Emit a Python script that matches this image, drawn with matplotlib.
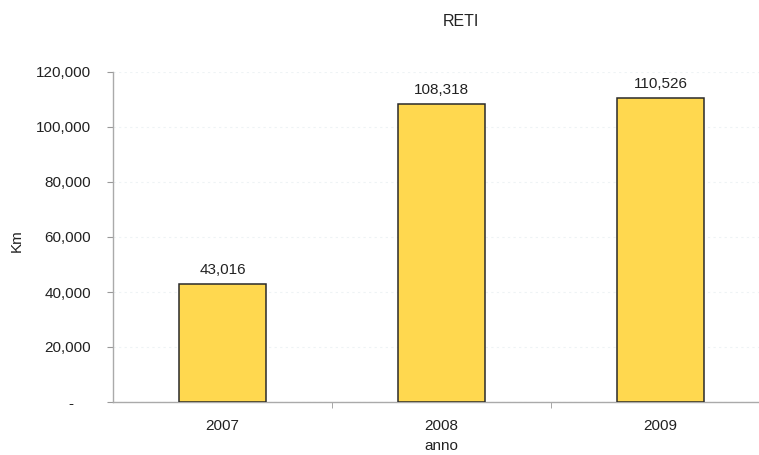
import matplotlib
matplotlib.use("Agg")
import matplotlib.pyplot as plt
from matplotlib.ticker import FixedLocator, FuncFormatter

plt.rcParams['font.family'] = ['Liberation Sans', 'DejaVu Sans']

years = ["2007", "2008", "2009"]
km = [43016, 108318, 110526]
y_ticks = [0, 20000, 40000, 60000, 80000, 100000, 120000]

W, H = 759, 455
fig = plt.figure(figsize=(W / 100, H / 100), dpi=100)
left, right = 113, 770
bottom, top = 402, 72
ax = fig.add_axes([left / W, 1 - bottom / H, (right - left) / W, (bottom - top) / H])

x = list(range(len(years)))
ax.bar(x, km, width=0.40, color="#FFD84F", edgecolor="#2a2a2a", linewidth=1.1, zorder=3)

for xi, v in zip(x, km):
    ax.annotate(f"{v:,}", (xi, v), xytext=(0, 5), textcoords="offset points",
                ha="center", va="bottom", fontsize=11, color="#222222")

ax.set_xlim(-0.5, 2.5)
ax.set_ylim(0, 120000)
ax.yaxis.set_major_locator(FixedLocator(y_ticks))
ax.yaxis.set_major_formatter(FuncFormatter(lambda v, p: "-    " if v == 0 else f"{int(v):,}"))
ax.set_xticks(x)
ax.set_xticklabels(years)
ax.xaxis.set_minor_locator(FixedLocator([0.5, 1.5]))
ax.tick_params(axis="x", which="major", length=0, pad=12, labelsize=11, colors="#222222")
ax.tick_params(axis="x", which="minor", length=4, color="#999999")
ax.tick_params(axis="y", length=4, color="#999999", labelsize=11, labelcolor="#222222", pad=12)

ax.yaxis.grid(True, color="#eef3f5", linestyle=(0, (2, 3)), linewidth=0.8, zorder=0)

for s in ("top", "right"):
    ax.spines[s].set_visible(False)
for s in ("left", "bottom"):
    ax.spines[s].set_color("#aaaaaa")
    ax.spines[s].set_linewidth(1.0)

ax.set_ylabel("Km", fontsize=11, color="#222222")
ax.yaxis.set_label_coords(-89 / (right - left), 0.49)

fig.text(441 / W, 1 - 446 / H, "anno", ha="center", va="center", fontsize=11, color="#222222")
fig.text(461 / W, 1 - 21 / H, "RETI", ha="center", va="center", fontsize=11.5, color="#222222")

fig.savefig("out.png", dpi=100, facecolor="white")
